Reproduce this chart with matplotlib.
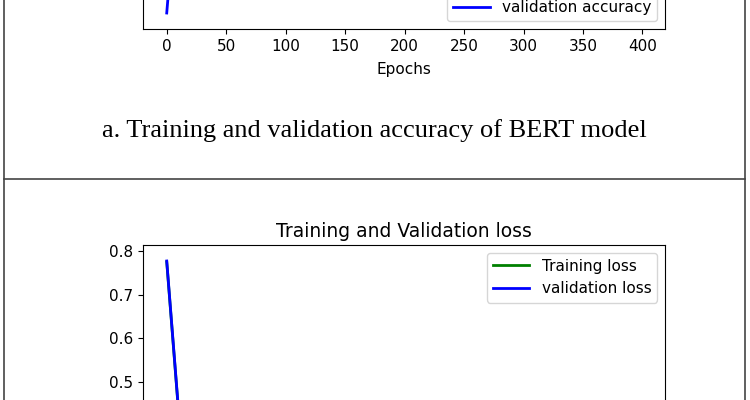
import matplotlib.pyplot as plt
from matplotlib.lines import Line2D

# recorded epochs (logged every 20 epochs)
epochs = [0, 20, 40, 60, 80, 100, 120, 140, 160, 180, 200,
          220, 240, 260, 280, 300, 320, 340, 360, 380, 399]

# accuracy curves (only the lower part is visible in the crop)
train_acc = [0.765, 0.955, 0.962, 0.966, 0.968, 0.970, 0.971, 0.972, 0.972, 0.973, 0.973,
             0.974, 0.974, 0.974, 0.975, 0.975, 0.975, 0.975, 0.975, 0.975, 0.975]
val_acc = [0.730, 0.950, 0.958, 0.962, 0.964, 0.966, 0.967, 0.968, 0.968, 0.969, 0.969,
           0.970, 0.970, 0.970, 0.971, 0.971, 0.971, 0.971, 0.972, 0.972, 0.972]

# loss curves
train_loss = [0.775, 0.085, 0.070, 0.063, 0.058, 0.055, 0.053, 0.051, 0.050, 0.049, 0.048,
              0.047, 0.047, 0.046, 0.046, 0.045, 0.045, 0.045, 0.044, 0.044, 0.044]
val_loss = [0.777, 0.088, 0.072, 0.065, 0.060, 0.057, 0.055, 0.053, 0.052, 0.051, 0.050,
            0.049, 0.048, 0.048, 0.047, 0.047, 0.046, 0.046, 0.045, 0.045, 0.045]

caption_a = "a. Training and validation accuracy of BERT model"

W, H = 750, 400
fig = plt.figure(figsize=(7.5, 4), dpi=100)

def box(left, top, right, bottom):
    # pixel box (from top-left) -> figure fraction
    return [left / W, 1 - bottom / H, (right - left) / W, (bottom - top) / H]

# top axes: accuracy (mostly above the visible area)
ax1 = fig.add_axes(box(143, 29 - 352, 665, 29))
ax1.plot(epochs, train_acc, color='g', lw=2, label='Training accuracy')
ax1.plot(epochs, val_acc, color='b', lw=2, label='validation accuracy')
ax1.set_xlabel('Epochs', fontsize=11, labelpad=6)
ax1.tick_params(labelsize=11)
ax1.set_yticklabels([])
ax1.legend(loc='lower right', fontsize=11, handlelength=2.4)

# bottom axes: loss
ax2 = fig.add_axes(box(143, 245, 665, 245 + 352))
ax2.plot(epochs, train_loss, color='g', lw=2, label='Training loss')
ax2.plot(epochs, val_loss, color='b', lw=2, label='validation loss')
ax2.set_title('Training and Validation loss', fontsize=13.5)
ax2.tick_params(labelsize=11)
ax2.legend(loc='upper right', fontsize=11, handlelength=2.4)

fig.text(374 / W, 1 - 131 / H, caption_a, ha='center', va='center',
         fontsize=19, family='Liberation Serif')

# table borders of the figure panel
border = '#444444'
fig.add_artist(Line2D([4 / W, 4 / W], [0, 1], color=border, lw=1.2))
fig.add_artist(Line2D([745 / W, 745 / W], [0, 1], color=border, lw=1.2))
fig.add_artist(Line2D([4 / W, 745 / W], [1 - 179 / H, 1 - 179 / H], color=border, lw=1.2))

fig.savefig('out.png', dpi=100)
